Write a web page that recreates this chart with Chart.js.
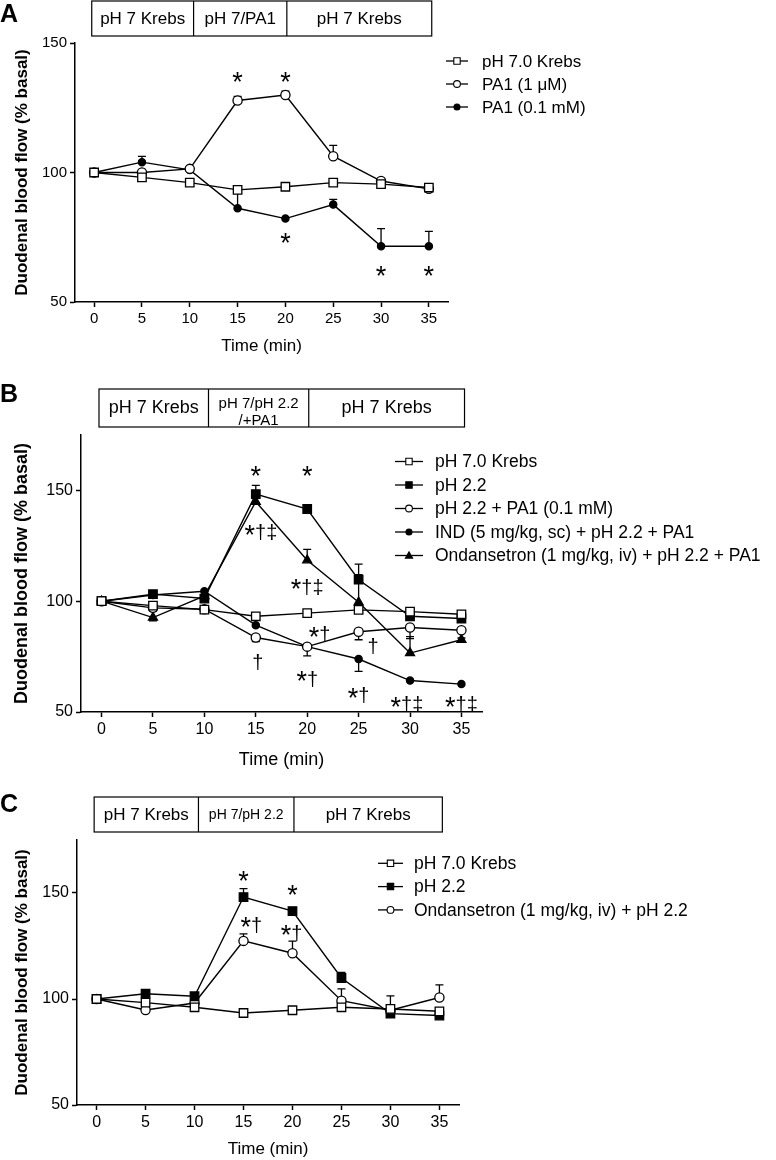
<!DOCTYPE html>
<html>
<head>
<meta charset="utf-8">
<script src="https://cdn.jsdelivr.net/npm/chart.js@4.4.0/dist/chart.umd.min.js"></script>
<style>
  body { margin: 0; background: #fff; width: 776px; height: 1160px; position: relative; overflow: hidden; }
  canvas { position: absolute; left: 0; }
</style>
</head>
<body>
<canvas id="chartA" width="776" height="370" style="top:0px"></canvas>
<canvas id="chartB" width="776" height="400" style="top:380px"></canvas>
<canvas id="chartC" width="776" height="380" style="top:780px"></canvas>
<script>
const times = [0, 5, 10, 15, 20, 25, 30, 35];
const xTicks = [0, 5, 10, 15, 20, 25, 30, 35];
const yTicks = [50, 100, 150];
const phaseEdges = [-0.25, 10.4, 20.15, 35.3];

// panel A
const aLabels = ['pH 7.0 Krebs', 'PA1 (1 μM)', 'PA1 (0.1 mM)'];
const aKrebs = [100, 98.1, 96.1, 93.3, 94.5, 96.1, 95.5, 94.2];
const aPa1Low = [100, 100, 101.4, 127.8, 129.9, 106.3, 96.7, 93.7];
const aPa1High = [100, 104, 101, 86.2, 82.2, 87.6, 71.5, 71.5];
const aKrebsErr = [0, 0, 0, 0, 0, 0, 0, 0];
const aPa1LowErr = [0, 0, 0, 1.6, 1.5, 4.2, 0, 0];
const aPa1HighErr = [0, 2.2, 0, 6, 0, 2, 6.8, 5.8];
const aPhases = ['pH 7 Krebs', 'pH 7/PA1', 'pH 7 Krebs'];
const aNotes = [[15, 137.5, '*'], [20, 137.5, '*'], [20, 75.3, '*'], [30, 62.5, '*'], [35, 62.5, '*']];

// panel B
const bLabels = ['pH 7.0 Krebs', 'pH 2.2', 'pH 2.2 + PA1 (0.1 mM)', 'IND (5 mg/kg, sc) + pH 2.2 + PA1', 'Ondansetron (1 mg/kg, iv) + pH 2.2 + PA1'];
const bKrebs = [100, 98, 96.2, 93.2, 94.6, 96.1, 95.3, 94.1];
const bAcid = [100, 103.2, 101.2, 148.3, 141.6, 109.7, 93.2, 92.2];
const bAcidPa1 = [100, 97, 96.4, 83.6, 79.5, 86.2, 88.1, 86.9];
const bInd = [100, 102.8, 104.5, 89.2, 79.5, 73.9, 64.2, 62.6];
const bOnd = [100, 92.6, 102.4, 144.9, 118.5, 99.5, 76.6, 82.6];
const bKrebsErr = [0, 0, 0, 0, 0, 0, 0, 0];
const bAcidErr = [0, 0, 0, 4, 0, 7, 0, 0];
const bAcidPa1Err = [0, -1.5, 0, -1.8, -4.2, -3.6, -5, -3.5];
const bIndErr = [0, 0, 0, 0, 0, -5.6, 0, 0];
const bOndErr = [0, -1.5, 0, 0, 4.9, 12.5, 7.4, 0];
const bPhases = ['pH 7 Krebs', 'pH 7/pH 2.2\n/+PA1', 'pH 7 Krebs'];
const bNotes = [[15, 159.6, '*'], [20, 159.6, '*'], [15.5, 132.9, '*†‡'], [20, 108.4, '*†‡'], [21.2, 86.8, '*†'],
  [26.4, 81.8, '†'], [15.2, 74.5, '†'], [20, 66.8, '*†'], [25, 59.3, '*†'], [29.7, 55.2, '*†‡'], [35, 55.2, '*†‡']];

// panel C
const cLabels = ['pH 7.0 Krebs', 'pH 2.2', 'Ondansetron (1 mg/kg, iv) + pH 2.2'];
const cKrebs = [100, 98.3, 96.1, 93.4, 94.7, 96.1, 95.3, 94.2];
const cAcid = [100, 102.5, 101.3, 148.1, 141.5, 109.9, 93.1, 92.2];
const cOnd = [100, 94.8, 98.1, 127.4, 121.6, 99.2, 94.7, 100.7];
const cKrebsErr = [0, 0, 0, 0, 0, 0, 0, 0];
const cAcidErr = [0, 0, 0, 4, 1, 2.6, 0, 0];
const cOndErr = [0, 0, 0, 3.3, 5.7, 5.6, 6.8, 6];
const cPhases = ['pH 7 Krebs', 'pH 7/pH 2.2', 'pH 7 Krebs'];
const cNotes = [[15, 158.9, '*'], [20, 152.2, '*'], [15.8, 137, '*†'], [19.9, 133.1, '*†']];

const FONT = '"Liberation Sans", Arial, Helvetica, sans-serif';

function makeSet(label, values, err, style) {
  const filled = style.startsWith('filled');
  const shape = style.endsWith('Square') ? 'rect' : style.endsWith('Triangle') ? 'triangle' : 'circle';
  const r = shape === 'rect' ? 6 : shape === 'triangle' ? 5.2 : (filled ? 3.6 : 4.6);
  return {
    label: label,
    data: times.map((t, i) => ({ x: t, y: values[i] })),
    errors: err,
    marker: style,
    borderColor: '#000',
    borderWidth: 1.4,
    pointStyle: shape,
    pointRadius: r,
    pointHoverRadius: r,
    pointBorderWidth: 1.3,
    pointBorderColor: '#000',
    pointBackgroundColor: filled ? '#000' : '#fff',
    tension: 0,
    fill: false,
    clip: false
  };
}

function legendMarker(ctx, style, x, y) {
  const filled = style.startsWith('filled');
  ctx.fillStyle = filled ? '#000' : '#fff';
  ctx.strokeStyle = '#000';
  ctx.lineWidth = 1.1;
  ctx.beginPath();
  if (style.endsWith('Square')) {
    ctx.rect(x - 3.2, y - 3.2, 6.4, 6.4);
  } else if (style.endsWith('Triangle')) {
    ctx.moveTo(x, y - 3.6);
    ctx.lineTo(x + 3.6, y + 2.6);
    ctx.lineTo(x - 3.6, y + 2.6);
    ctx.closePath();
  } else {
    ctx.arc(x, y, filled ? 3 : 3.4, 0, Math.PI * 2);
  }
  ctx.fill();
  ctx.stroke();
}

// asterisks a bit bigger than the daggers, like the original figure
function drawMark(ctx, text, cx, cy) {
  const parts = text.split('').map(ch => {
    const f = (ch === '*' ? 27 : 20) + 'px ' + FONT;
    ctx.font = f;
    return { ch, f, w: ctx.measureText(ch).width, base: ch === '*' ? cy + 15.5 : cy + 11 };
  });
  let x = cx - parts.reduce((s, p) => s + p.w, 0) / 2;
  ctx.textAlign = 'left';
  ctx.textBaseline = 'alphabetic';
  parts.forEach(p => {
    ctx.font = p.f;
    ctx.fillText(p.ch, x, p.base);
    x += p.w;
  });
}

const decor = {
  id: 'decor',
  beforeDatasetsDraw(chart) {
    const ctx = chart.ctx;
    const ys = chart.scales.y;
    ctx.save();
    ctx.strokeStyle = '#000';
    ctx.lineWidth = 1.3;
    chart.data.datasets.forEach((ds, i) => {
      const meta = chart.getDatasetMeta(i);
      ds.errors.forEach((e, j) => {
        if (!e) return;
        const pt = meta.data[j];
        const y1 = ys.getPixelForValue(ds.data[j].y + e);
        ctx.beginPath();
        ctx.moveTo(pt.x, pt.y);
        ctx.lineTo(pt.x, y1);
        ctx.moveTo(pt.x - 4, y1);
        ctx.lineTo(pt.x + 4, y1);
        ctx.stroke();
      });
    });
    ctx.restore();
  },
  afterDraw(chart, args, opts) {
    const ctx = chart.ctx;
    const xs = chart.scales.x;
    const ys = chart.scales.y;
    ctx.save();
    ctx.fillStyle = '#000';
    ctx.strokeStyle = '#000';

    // panel letter
    ctx.font = 'bold 25px ' + FONT;
    ctx.textAlign = 'left';
    ctx.textBaseline = 'alphabetic';
    ctx.fillText(opts.letter, 0, opts.letterY);

    // treatment box
    const bx = phaseEdges.map(v => xs.getPixelForValue(v));
    ctx.lineWidth = 1.2;
    ctx.strokeRect(bx[0], opts.boxTop, bx[3] - bx[0], opts.boxHeight);
    ctx.beginPath();
    ctx.moveTo(bx[1], opts.boxTop);
    ctx.lineTo(bx[1], opts.boxTop + opts.boxHeight);
    ctx.moveTo(bx[2], opts.boxTop);
    ctx.lineTo(bx[2], opts.boxTop + opts.boxHeight);
    ctx.stroke();
    ctx.textAlign = 'center';
    ctx.textBaseline = 'middle';
    opts.phases.forEach((txt, k) => {
      const cx = (bx[k] + bx[k + 1]) / 2;
      const lines = txt.split('\n');
      if (lines.length === 1) {
        ctx.font = (k === 1 ? opts.midFont : opts.boxFont) + 'px ' + FONT;
        ctx.fillText(txt, cx, opts.boxTop + opts.boxHeight / 2 + 0.5);
      } else {
        ctx.font = opts.midFont + 'px ' + FONT;
        ctx.fillText(lines[0], cx, opts.boxTop + 15);
        ctx.fillText(lines[1], cx, opts.boxTop + 32);
      }
    });

    // legend
    const lg = opts.legend;
    chart.data.datasets.forEach((ds, i) => {
      const y = lg.y + i * lg.gap;
      ctx.strokeStyle = '#000';
      ctx.lineWidth = 1.3;
      ctx.beginPath();
      ctx.moveTo(lg.x, y);
      ctx.lineTo(lg.x + lg.len, y);
      ctx.stroke();
      legendMarker(ctx, ds.marker, lg.x + lg.len / 2, y);
      ctx.fillStyle = '#000';
      ctx.font = lg.font + 'px ' + FONT;
      ctx.textAlign = 'left';
      ctx.textBaseline = 'middle';
      ctx.fillText(ds.label, lg.x + lg.textOff, y + 1);
    });

    // significance marks
    ctx.fillStyle = '#000';
    opts.notes.forEach(n => {
      drawMark(ctx, n[2], xs.getPixelForValue(n[0]), ys.getPixelForValue(n[1]));
    });
    ctx.restore();
  }
};

function makeChart(id, sets, cfg) {
  new Chart(document.getElementById(id), {
    type: 'line',
    data: { datasets: sets },
    options: {
      responsive: false,
      animation: false,
      devicePixelRatio: 1,
      layout: { padding: cfg.padding },
      plugins: {
        legend: { display: false },
        tooltip: { enabled: false },
        decor: cfg.decor
      },
      scales: {
        x: {
          type: 'linear',
          min: -2,
          max: 37,
          afterBuildTicks: s => { s.ticks = xTicks.map(v => ({ value: v })); },
          afterFit: s => { s.height = cfg.xHeight; },
          grid: { display: true, drawOnChartArea: false, drawTicks: true, tickLength: 5, tickWidth: 1.5, tickColor: '#000' },
          border: { display: true, color: '#000', width: 1.5 },
          ticks: { color: '#000', font: { family: FONT, size: cfg.tickSize }, padding: 3, maxRotation: 0 },
          title: { display: true, text: 'Time (min)', color: '#000', font: { family: FONT, size: cfg.titleSize }, padding: { top: 0, bottom: cfg.xTitlePad } }
        },
        y: {
          type: 'linear',
          min: 50,
          max: cfg.yMax,
          afterBuildTicks: s => { s.ticks = yTicks.map(v => ({ value: v })); },
          afterFit: s => { s.width = cfg.yWidth; },
          grid: { display: true, drawOnChartArea: false, drawTicks: true, tickLength: 5, tickWidth: 1.5, tickColor: '#000' },
          border: { display: true, color: '#000', width: 1.5 },
          ticks: { color: '#000', font: { family: FONT, size: cfg.tickSize }, padding: 3 },
          title: { display: true, text: 'Duodenal blood flow (% basal)', color: '#000', font: { family: FONT, size: cfg.titleSize, weight: 'bold' }, padding: { top: cfg.yTitlePad, bottom: 0 } }
        }
      }
    },
    plugins: [decor]
  });
}

makeChart('chartA', [
  makeSet(aLabels[0], aKrebs, aKrebsErr, 'openSquare'),
  makeSet(aLabels[1], aPa1Low, aPa1LowErr, 'openCircle'),
  makeSet(aLabels[2], aPa1High, aPa1HighErr, 'filledCircle')
], {
  padding: { left: 0, right: 328, top: 43, bottom: 8 },
  xHeight: 60, yWidth: 75, yMax: 150, tickSize: 15, titleSize: 17, xTitlePad: 5, yTitlePad: 12,
  decor: {
    letter: 'A', letterY: 22, boxTop: 1, boxHeight: 35, boxFont: 17, midFont: 17, phases: aPhases,
    legend: { x: 446, y: 61, gap: 23, len: 22, textOff: 36, font: 17 },
    notes: aNotes
  }
});

makeChart('chartB', [
  makeSet(bLabels[0], bKrebs, bKrebsErr, 'openSquare'),
  makeSet(bLabels[1], bAcid, bAcidErr, 'filledSquare'),
  makeSet(bLabels[2], bAcidPa1, bAcidPa1Err, 'openCircle'),
  makeSet(bLabels[3], bInd, bIndErr, 'filledCircle'),
  makeSet(bLabels[4], bOnd, bOndErr, 'filledTriangle')
], {
  padding: { left: 0, right: 294, top: 55, bottom: 8 },
  xHeight: 60, yWidth: 81, yMax: 175, tickSize: 16, titleSize: 18, xTitlePad: 1, yTitlePad: 11,
  decor: {
    letter: 'B', letterY: 22, boxTop: 9, boxHeight: 38, boxFont: 18, midFont: 15, phases: bPhases,
    legend: { x: 395, y: 81.5, gap: 23.5, len: 28, textOff: 40, font: 17.5 },
    notes: bNotes
  }
});

makeChart('chartC', [
  makeSet(cLabels[0], cKrebs, cKrebsErr, 'openSquare'),
  makeSet(cLabels[1], cAcid, cAcidErr, 'filledSquare'),
  makeSet(cLabels[2], cOnd, cOndErr, 'openCircle')
], {
  padding: { left: 0, right: 317, top: 60, bottom: 0 },
  xHeight: 55, yWidth: 77, yMax: 175, tickSize: 16, titleSize: 17, xTitlePad: 0, yTitlePad: 12,
  decor: {
    letter: 'C', letterY: 32, boxTop: 17, boxHeight: 35, boxFont: 17, midFont: 14, phases: cPhases,
    legend: { x: 378, y: 83.3, gap: 23.3, len: 25, textOff: 36, font: 17.5 },
    notes: cNotes
  }
});
</script>
</body>
</html>
